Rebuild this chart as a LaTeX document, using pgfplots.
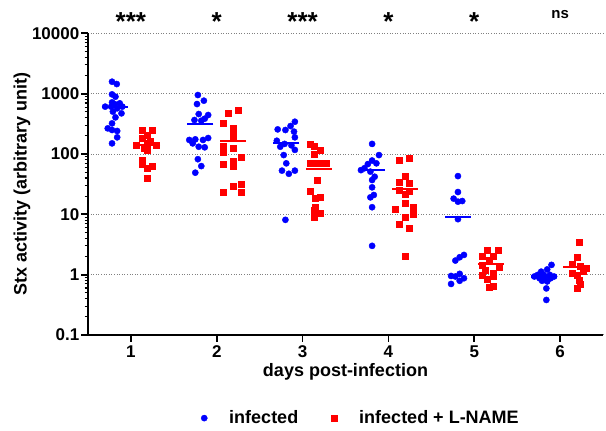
\documentclass[border=0pt]{standalone}
\usepackage{fontspec}
\setmainfont{Liberation Sans}
\usepackage{pgfplots}
\usepackage{pgfplotstable}
\pgfplotsset{compat=1.18}
\definecolor{gpblue}{RGB}{0,0,255}
\definecolor{gpred}{RGB}{255,0,0}
\newcommand{\fs}[1]{\fontsize{#1bp}{#1bp}\selectfont\bfseries}

\pgfplotstableread{
x y
0.78 1581
0.835 1446
0.78 975
0.82 892
0.78 718
0.81 674
0.87 692
0.70 610
0.77 610
0.84 572
0.90 610
0.79 504
0.89 472
0.82 405
0.78 322
0.73 266
0.78 250
0.84 241
0.84 189
0.78 150
1.78 950
1.85 766
1.77 674
1.79 460
1.90 443
1.74 366
1.82 357
1.86 385
1.68 171
1.75 175
1.84 171
1.90 184
1.72 150
1.79 132
1.86 129
1.78 82
1.82 63
1.75 49
2.91 343
2.86 291
2.71 256
2.80 250
2.90 235
2.91 189
2.70 166
2.79 147
2.87 139
2.74 132
2.91 117
2.78 96
2.81 70
2.76 53
2.84 47
2.91 53
2.80 8.1
3.81 147
3.89 96
3.81 78
3.76 68
3.86 70
3.72 58
3.68 54
3.79 51
3.84 42
3.81 37
3.81 28
3.83 20.9
3.79 19.1
3.81 13.1
3.81 3.0
4.81 43
4.81 23.4
4.76 18.2
4.81 16.2
4.86 16.6
4.81 8.3
4.78 1.71
4.83 1.94
4.88 2.12
4.73 0.95
4.78 0.93
4.83 1.03
4.88 0.87
4.83 0.79
4.73 0.70
5.90 1.45
5.85 1.22
5.78 1.12
5.74 0.99
5.81 0.99
5.88 0.99
5.93 0.93
5.70 0.93
5.76 0.87
5.82 0.84
5.89 0.87
5.79 0.79
5.85 0.77
5.84 0.59
5.84 0.38
}\blue

\pgfplotstableread{
x y
1.13 244
1.25 244
1.19 207
1.13 182
1.06 141
1.19 150
1.30 141
1.23 160
1.16 124
1.19 114
1.13 80
1.13 68
1.25 62
1.19 58
1.19 40
2.13 484
2.25 536
2.08 330
2.19 266
2.19 220
2.19 182
2.08 136
2.19 124
2.08 109
2.29 88
2.08 68
2.19 75
2.19 62
2.08 23
2.19 29.5
2.29 31
2.29 23
3.09 147
3.14 136
3.20 117
3.14 100
3.09 70
3.14 70
3.20 70
3.27 70
3.17 37
3.09 23.8
3.15 18.4
3.20 19.1
3.15 13.1
3.14 11.5
3.20 10.4
3.14 8.9
4.13 78
4.24 85
4.19 43
4.13 33.5
4.24 32.7
4.13 25
4.24 24.6
4.19 21.7
4.08 12.1
4.19 15.2
4.29 13.1
4.29 10.1
4.19 8.9
4.13 6.9
4.24 5.9
4.19 2.04
5.15 2.50
5.28 2.50
5.09 2.04
5.22 1.99
5.17 1.75
5.09 1.45
5.29 1.32
5.13 1.19
5.22 1.05
5.09 0.99
5.22 0.93
5.15 0.84
5.17 0.63
5.22 0.65
6.22 3.39
6.20 1.94
6.14 1.50
6.24 1.39
6.30 1.26
6.27 1.16
6.14 1.05
6.20 0.97
6.22 0.82
6.24 0.70
6.20 0.59
}\red

\pgfplotstableread{
x y
0.81 593
1.81 314
2.81 154
3.81 54
4.81 9.1
5.81 0.93
}\bluemean

\pgfplotstableread{
x y
1.19 139
2.19 162
3.19 56
4.19 26
5.19 1.50
6.19 1.32
}\redmean

\begin{document}
\begin{tikzpicture}
\begin{axis}[
  scale only axis, width=515bp, height=301.5bp,
  xmin=0.5, xmax=6.5, ymode=log, ymin=0.1, ymax=10000,
  axis lines*=left, clip=false,
  axis line style={line width=2.5bp, black},
  xtick={1,2,3,4,5,6}, xticklabels={1,2,3,4,5,6},
  ytick={0.1,1,10,100,1000,10000}, yticklabels={0.1,1,10,100,1000,10000},
  minor ytick={0.2,0.3,0.4,0.5,0.6,0.7,0.8,0.9,2,3,4,5,6,7,8,9,20,30,40,50,60,70,80,90,200,300,400,500,600,700,800,900,2000,3000,4000,5000,6000,7000,8000,9000},
  tick align=outside, major tick length=7bp, minor tick length=3.5bp,
  every major tick/.append style={line width=1.8bp, black},
  every minor tick/.append style={line width=1.1bp, black},
  ymajorgrids,
  major grid style={gray, line width=0.9bp, dash pattern=on 1bp off 1.6bp},
  xticklabel style={font=\fs{17}},
  yticklabel style={font=\fs{17}, inner sep=1.5bp},
  xlabel={days post-infection}, ylabel={Stx activity (arbitrary unit)},
  every axis x label/.style={at={(axis description cs:0.5,-0.1227)}, anchor=center, font=\fs{18}},
  every axis y label/.style={at={(axis description cs:-0.1282,0.5)}, rotate=90, anchor=center, font=\fs{18}},
  legend columns=2,
  legend style={at={(axis description cs:0.5165,-0.276)}, anchor=center, draw=none, fill=none, font=\fs{18},
    /tikz/every even column/.append style={column sep=17bp}},
  legend image code/.code={\path[draw=none, fill=none] (0bp,-3bp) rectangle (40bp,3bp);
    \draw[#1, only marks] plot coordinates {(17bp,0bp)};},
]
\addplot[only marks, mark=*, mark size=3.1bp, draw=gpblue, fill=gpblue] table[x=x,y=y] {\blue};
\addlegendentry{infected}
\addplot[only marks, mark=square*, mark size=3bp, draw=gpred, fill=gpred] table[x=x,y=y] {\red};
\addlegendentry{infected + L-NAME}
\addplot[forget plot, only marks, mark=-, mark size=13bp, mark options={line width=2.2bp}, gpblue] table[x=x,y=y] {\bluemean};
\addplot[forget plot, only marks, mark=-, mark size=13bp, mark options={line width=2.2bp}, gpred] table[x=x,y=y] {\redmean};
\node[anchor=base, font=\fs{26}] at (axis cs:1,11260) {***};
\node[anchor=base, font=\fs{26}] at (axis cs:2,11260) {*};
\node[anchor=base, font=\fs{26}] at (axis cs:3,11260) {***};
\node[anchor=base, font=\fs{26}] at (axis cs:4,11260) {*};
\node[anchor=base, font=\fs{26}] at (axis cs:5,11260) {*};
\node[anchor=base, font=\fs{15}] at (axis cs:6,17700) {ns};
\coordinate (ll) at (rel axis cs:0,0);
\coordinate (ur) at (rel axis cs:1,1);
\end{axis}
\pgfresetboundingbox
\path ([shift={(-88bp,-95.1bp)}]ll) rectangle ([shift={(3bp,33.4bp)}]ur);
\end{tikzpicture}
\end{document}
